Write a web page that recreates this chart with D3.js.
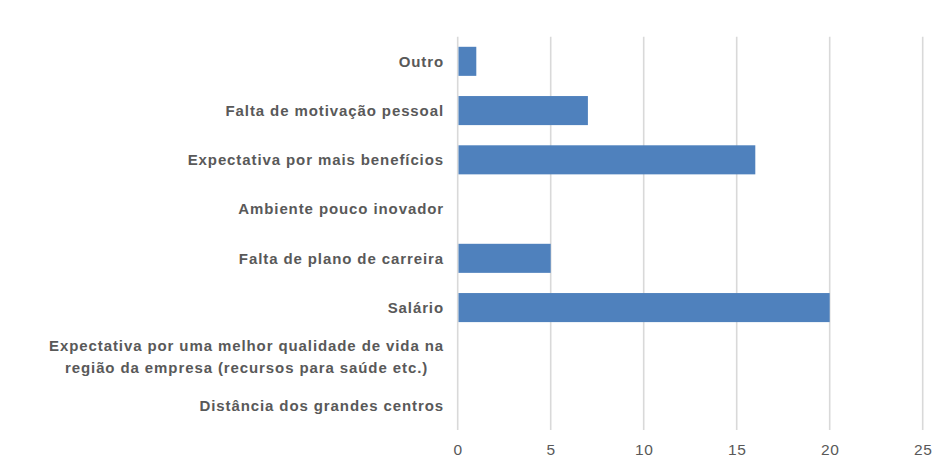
<!DOCTYPE html>
<html><head><meta charset="utf-8">
<script src="https://cdn.jsdelivr.net/npm/d3@7"></script>
<style>body{margin:0;background:#fff}</style>
</head><body>
<svg id="c" width="945" height="472"></svg>
<script>
const categories = [
  "Outro",
  "Falta de motivação pessoal",
  "Expectativa por mais benefícios",
  "Ambiente pouco inovador",
  "Falta de plano de carreira",
  "Salário",
  "Expectativa por uma melhor qualidade de vida na|região da empresa (recursos para saúde etc.)",
  "Distância dos grandes centros"
];
const values = [1, 7, 16, 0, 5, 20, 0, 0];
const tickValues = [0, 5, 10, 15, 20, 25];

const svg = d3.select("#c");
const x = d3.scaleLinear().domain([0, 25]).range([457.7, 922.7]);
const y = d3.scaleBand().domain(categories).range([36.7, 430.7]).paddingInner(0.41).paddingOuter(0.205);

const font = "'Liberation Sans', Arial, sans-serif";

// gridlines
svg.append("g").selectAll("line").data(tickValues).join("line")
  .attr("x1", d => x(d)).attr("x2", d => x(d))
  .attr("y1", 36.7).attr("y2", 430)
  .attr("stroke", "#d9d9d9").attr("stroke-width", 1.6);

// bars
svg.append("g").selectAll("rect").data(values.map((v, i) => ({c: categories[i], v})))
  .join("rect")
  .attr("x", x(0) + 0.8)
  .attr("y", d => y(d.c))
  .attr("width", d => Math.max(0, x(d.v) - x(0) - 0.8))
  .attr("height", y.bandwidth())
  .attr("fill", "#4f81bd");

// x axis labels
const xAxis = d3.axisBottom(x).tickValues(tickValues).tickSize(0).tickPadding(0);
const gx = svg.append("g").attr("transform", "translate(0,443.5)").call(xAxis);
gx.select(".domain").remove();
gx.selectAll("text").attr("font-family", font).attr("font-size", 15.5).attr("fill", "#595959")
  .attr("dy", "0.71em").attr("letter-spacing", 0.6);

// y labels
const yAxis = d3.axisLeft(y).tickSize(0).tickPadding(0).tickFormat("");
const gy = svg.append("g").attr("transform", "translate(444,0)").call(yAxis);
gy.select(".domain").remove();
gy.selectAll(".tick").each(function(d) {
  const lines = d.split("|");
  const t = d3.select(this).append("text")
    .attr("font-family", font).attr("font-size", 15).attr("font-weight", "bold")
    .attr("letter-spacing", 0.9)
    .attr("fill", "#595959");
  const lh = 22;
  const spans = lines.map((l, i) => t.append("tspan")
      .attr("y", (i - (lines.length - 1) / 2) * lh)
      .attr("dy", "0.35em").text(l));
  if (lines.length === 1) {
    t.attr("text-anchor", "end");
    spans[0].attr("x", 0);
  } else {
    const w = d3.max(spans, s => s.node().getComputedTextLength());
    t.attr("text-anchor", "middle");
    spans.forEach(s => s.attr("x", -w / 2));
  }
});
</script>
</body></html>
